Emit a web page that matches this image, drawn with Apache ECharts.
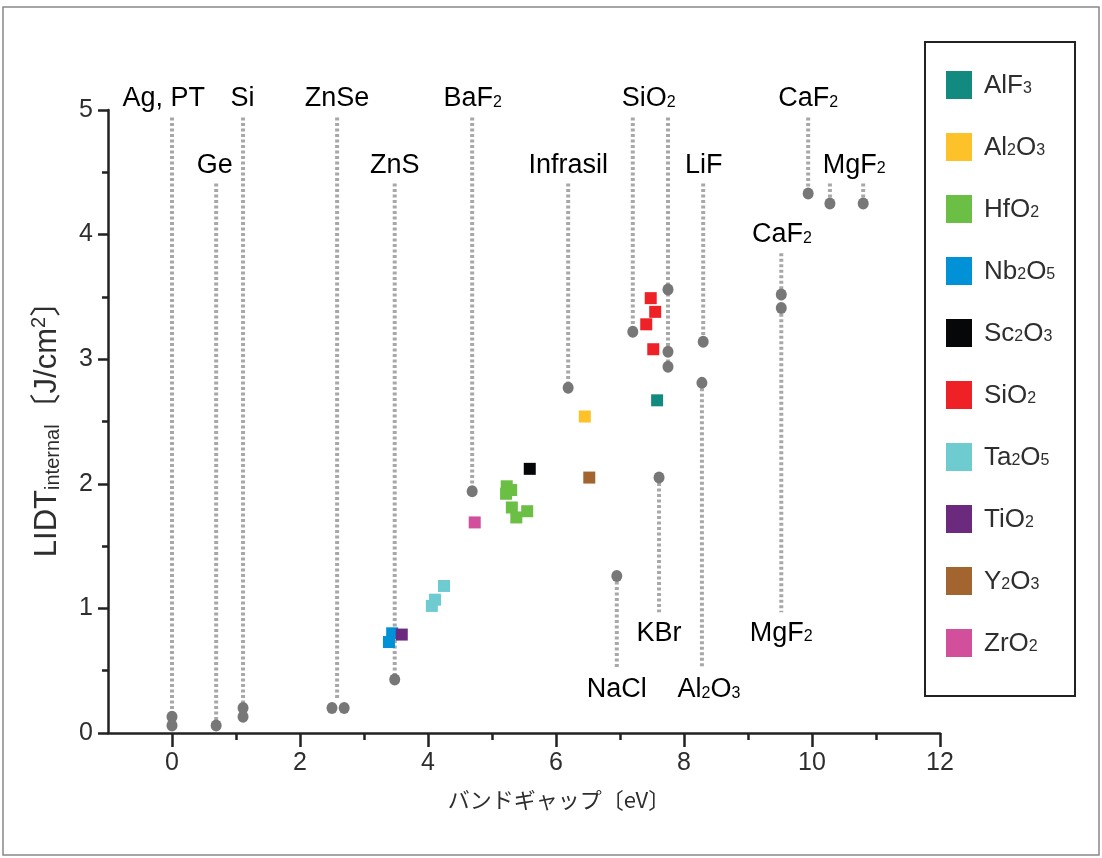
<!DOCTYPE html>
<html>
<head>
<meta charset="utf-8">
<script src="https://cdn.jsdelivr.net/npm/echarts@6/dist/echarts.min.js"></script>
<style>
  html, body { margin: 0; background: #fff; }
  #main { width: 1102px; height: 858px; }
</style>
</head>
<body>
<div id="main"></div>
<script>
// axis ticks
const xMajorTicks = [0, 2, 4, 6, 8, 10, 12];
const xMinorTicks = [1, 3, 5, 7, 9, 11];
const yMajorTicks = [0, 1, 2, 3, 4, 5];
const yMinorTicks = [0.5, 1.5, 2.5, 3.5, 4.5];

// substrates / bulk materials (gray dots): [bandgap, LIDT]
const substrates = [
  [0, 0.13], [0, 0.06], [0.69, 0.06], [1.11, 0.20], [1.11, 0.13],
  [2.5, 0.20], [2.69, 0.20], [3.48, 0.43], [4.69, 1.94], [6.19, 2.77],
  [6.95, 1.26], [7.2, 3.22], [7.75, 3.56], [7.75, 3.06], [7.75, 2.94],
  [7.61, 2.05], [8.3, 3.14], [8.28, 2.81], [9.52, 3.52], [9.52, 3.41],
  [9.94, 4.33], [10.28, 4.25], [10.8, 4.25]
];

// dashed leaders: [x, from, to]
const leaders = [
  [0, 4.94, 0.13], [0.69, 4.41, 0.06], [1.11, 4.94, 0.20], [2.58, 4.94, 0.27],
  [3.48, 4.41, 0.43], [4.69, 4.94, 1.94], [6.19, 4.41, 2.77], [6.95, 1.26, 0.52],
  [7.2, 4.94, 3.22], [7.75, 4.94, 2.94], [7.61, 2.05, 0.97], [8.3, 4.41, 3.14],
  [8.28, 2.81, 0.52], [9.52, 3.85, 0.97], [9.94, 4.94, 4.33], [10.28, 4.41, 4.25],
  [10.8, 4.41, 4.25]
];

// leader labels: [text, x, y]
const leaderLabels = [
  ['Ag, PT', -0.13, 5.1], ['Ge', 0.67, 4.57], ['Si', 1.1, 5.1], ['ZnSe', 2.58, 5.1],
  ['ZnS', 3.48, 4.57], ['BaF2', 4.7, 5.1], ['Infrasil', 6.19, 4.57], ['SiO2', 7.45, 5.1],
  ['LiF', 8.31, 4.57], ['CaF2', 9.94, 5.1], ['MgF2', 10.66, 4.57], ['CaF2', 9.53, 4.01],
  ['NaCl', 6.95, 0.36], ['KBr', 7.61, 0.81], ['Al2O3', 8.39, 0.36], ['MgF2', 9.52, 0.81]
];

// coatings
const coatingNames = ['AlF3', 'Al2O3', 'HfO2', 'Nb2O5', 'Sc2O3', 'SiO2', 'Ta2O5', 'TiO2', 'Y2O3', 'ZrO2'];
const coatingColors = ['#138a80', '#fdc12a', '#6bbf44', '#0091d7', '#050708', '#ed2126', '#6ecbd0', '#6c2a7f', '#a3652f', '#d24f9c'];
const alf3 = [[7.58, 2.67]];
const al2o3 = [[6.45, 2.54]];
const hfo2 = [[5.23, 1.98], [5.30, 1.95], [5.22, 1.92], [5.31, 1.81], [5.38, 1.73], [5.55, 1.78]];
const nb2o5 = [[3.44, 0.80], [3.39, 0.73]];
const sc2o3 = [[5.59, 2.12]];
const sio2 = [[7.48, 3.49], [7.55, 3.38], [7.41, 3.28], [7.52, 3.08]];
const ta2o5 = [[4.25, 1.18], [4.11, 1.07], [4.06, 1.02]];
const tio2 = [[3.59, 0.79]];
const y2o3 = [[6.52, 2.05]];
const zro2 = [[4.73, 1.69]];
const coatingValues = [alf3, al2o3, hfo2, nb2o5, sc2o3, sio2, ta2o5, tio2, y2o3, zro2];

const FONT = "'Liberation Sans', Arial, sans-serif";
const TXT = '#2e2e2e';

// chemical formula -> rich text with small digits
const sub = (s) => s.replace(/(\D+)|(\d+)/g, (m, a, d) => a ? `{n|${a}}` : `{s|${d}}`);
const formulaRich = (size, lh) => ({
  n: { fontSize: size, fontFamily: FONT, color: TXT, verticalAlign: 'bottom', lineHeight: lh },
  s: { fontSize: Math.round(size * 0.6), fontFamily: FONT, color: TXT, verticalAlign: 'bottom', lineHeight: lh, padding: [0, 0, 2, 0] }
});

const chart = echarts.init(document.getElementById('main'));

const axisColor = '#222';
const series = [
  {
    type: 'custom',
    silent: true,
    z: 1,
    data: leaders,
    encode: { x: 0, y: [1, 2] },
    renderItem: (params, api) => {
      const a = api.coord([api.value(0), api.value(1)]);
      const b = api.coord([api.value(0), api.value(2)]);
      return {
        type: 'line',
        shape: { x1: a[0], y1: a[1], x2: b[0], y2: b[1] },
        style: { stroke: '#a8a8a8', lineWidth: 4, lineDash: [3, 2.5] }
      };
    }
  },
  {
    type: 'custom',
    silent: true,
    z: 2,
    data: leaderLabels.map(d => [d[1], d[2]]),
    renderItem: (params, api) => {
      const p = api.coord([api.value(0), api.value(1)]);
      return {
        type: 'text',
        style: {
          x: p[0], y: p[1],
          text: sub(leaderLabels[params.dataIndex][0]),
          rich: formulaRich(27, 30),
          align: 'center', verticalAlign: 'middle'
        }
      };
    }
  },
  {
    type: 'scatter',
    name: 'substrate',
    z: 3,
    symbol: 'circle',
    symbolSize: [11, 12],
    itemStyle: { color: '#777', opacity: 1 },
    data: substrates
  }
];
coatingNames.forEach((name, i) => {
  series.push({
    type: 'scatter',
    name: name,
    z: 4,
    symbol: 'rect',
    symbolSize: 12,
    itemStyle: { color: coatingColors[i], opacity: 1 },
    data: coatingValues[i]
  });
});

const option = {
  animation: false,
  backgroundColor: '#fff',
  grid: { left: 108, right: 162, top: 110, bottom: 125 },
  xAxis: [
    {
      type: 'value', min: -1, max: 12, position: 'bottom',
      axisLine: { onZero: false, lineStyle: { color: axisColor, width: 2.5 } },
      axisTick: { customValues: xMajorTicks, length: 14, lineStyle: { color: axisColor, width: 2.5 } },
      axisLabel: { customValues: xMajorTicks, fontSize: 25, fontFamily: FONT, color: TXT, margin: 18 },
      splitLine: { show: false },
      name: 'バンドギャップ〔eV〕',
      nameLocation: 'middle',
      nameGap: 56,
      nameTextStyle: { fontSize: 22, fontFamily: "'Noto Sans CJK JP', sans-serif", color: TXT, padding: [0, 0, 0, 70] }
    },
    {
      type: 'value', min: -1, max: 12, position: 'bottom',
      axisLine: { show: false, onZero: false },
      axisTick: { customValues: xMinorTicks, length: 7, lineStyle: { color: axisColor, width: 2.5 } },
      axisLabel: { show: false },
      splitLine: { show: false }
    }
  ],
  yAxis: [
    {
      type: 'value', min: 0, max: 5, position: 'left',
      axisLine: { show: true, onZero: false, lineStyle: { color: axisColor, width: 2.5 } },
      axisTick: { show: true, customValues: yMajorTicks, length: 10, lineStyle: { color: axisColor, width: 2.5 } },
      axisLabel: { customValues: yMajorTicks, fontSize: 25, fontFamily: FONT, color: TXT, margin: 15 },
      splitLine: { show: false },
      name: '{a|LIDT}{b|internal}{c|〔J/cm}{d|2}{c|〕}',
      nameLocation: 'middle',
      nameRotate: 90,
      nameGap: 45,
      nameTextStyle: {
        rich: {
          a: { fontSize: 31, fontFamily: FONT, color: TXT, verticalAlign: 'bottom', lineHeight: 35 },
          b: { fontSize: 20, fontFamily: FONT, color: TXT, verticalAlign: 'bottom', lineHeight: 35 },
          c: { fontSize: 31, fontFamily: "'Liberation Sans', 'Noto Sans CJK JP', sans-serif", color: TXT, verticalAlign: 'bottom', lineHeight: 35 },
          d: { fontSize: 20, fontFamily: FONT, color: TXT, verticalAlign: 'top', lineHeight: 35, padding: [1, 0, 0, 0] }
        }
      }
    },
    {
      type: 'value', min: 0, max: 5, position: 'left',
      axisLine: { show: false, onZero: false },
      axisTick: { show: true, customValues: yMinorTicks, length: 6, lineStyle: { color: axisColor, width: 2.5 } },
      axisLabel: { show: false },
      splitLine: { show: false }
    }
  ],
  legend: {
    data: coatingNames,
    orient: 'vertical',
    left: 946,
    top: 71,
    padding: 0,
    itemWidth: 26,
    itemHeight: 28,
    itemGap: 34,
    icon: 'rect',
    selectedMode: false,
    formatter: (name) => sub(name),
    textStyle: { rich: formulaRich(26, 28), lineHeight: 28, padding: [0, 0, 0, 7] }
  },
  graphic: [
    { type: 'rect', shape: { x: 3, y: 7, width: 1096, height: 848 }, style: { fill: 'none', stroke: '#888', lineWidth: 1.5 }, silent: true },
    { type: 'rect', shape: { x: 925, y: 42, width: 150, height: 654 }, style: { fill: 'none', stroke: '#222', lineWidth: 2 }, silent: true }
  ],
  series: series
};
chart.setOption(option);
</script>
</body>
</html>
